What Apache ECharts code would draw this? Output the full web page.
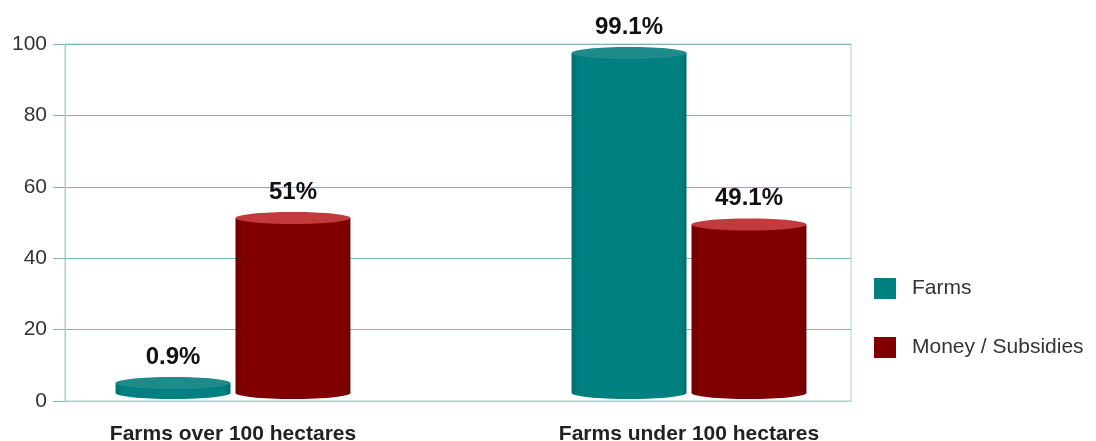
<!DOCTYPE html>
<html>
<head>
<meta charset="utf-8">
<script src="https://cdn.jsdelivr.net/npm/echarts@6/dist/echarts.min.js"></script>
<style>
  html, body { margin: 0; padding: 0; background: #fff; }
  #chart { width: 1096px; height: 441px; }
</style>
</head>
<body>
<div id="chart"></div>
<script>
const categories = ["Farms over 100 hectares", "Farms under 100 hectares"];
const farms = [0.9, 99.1];
const money = [51, 49.1];
const farmsLabels = ["0.9%", "99.1%"];
const moneyLabels = ["51%", "49.1%"];
const yTicks = [0, 20, 40, 60, 80, 100];

const font = "Liberation Sans";
const gridColor = "#7fb5b5";
const frameColor = "#a9cfcf";

// draws one cylinder per data item
function cylinder(side, labels, body, edge, top) {
  return function (params, api) {
    const idx = api.value(0);
    const p = api.coord([idx, api.value(1)]);
    const base = api.coord([idx, 0])[1];
    const band = api.size([1, 0])[0];
    const w = band * 0.252;
    const cx = p[0] + side * band * 0.1315;
    const ry = 6;
    const topY = Math.min(p[1], base - 10);
    const grad = new echarts.graphic.LinearGradient(0, 0, 1, 0, [
      { offset: 0, color: edge },
      { offset: 0.06, color: body },
      { offset: 0.94, color: body },
      { offset: 1, color: edge }
    ]);
    return {
      type: "group",
      children: [
        { type: "ellipse", shape: { cx: cx, cy: base, rx: w / 2, ry: ry }, style: { fill: grad } },
        { type: "rect", shape: { x: cx - w / 2, y: topY, width: w, height: base - topY }, style: { fill: grad } },
        { type: "ellipse", shape: { cx: cx, cy: topY, rx: w / 2, ry: ry }, style: { fill: top } },
        {
          type: "text",
          style: {
            text: labels[params.dataIndex], x: cx, y: topY - 26,
            align: "center", verticalAlign: "middle",
            font: "bold 24px '" + font + "'", fill: "#111"
          }
        }
      ]
    };
  };
}

const chart = echarts.init(document.getElementById("chart"));
chart.setOption({
  animation: false,
  legend: {
    orient: "vertical",
    left: 869,
    top: 273,
    itemWidth: 22,
    itemHeight: 21,
    itemGap: 38,
    icon: "rect",
    data: ["Farms", "Money / Subsidies"],
    textStyle: { fontFamily: font, fontSize: 21, color: "#333", lineHeight: 21, padding: [0, 0, 0, 11] }
  },
  grid: [
    { left: 65, right: 245, top: 44, bottom: 40, show: true, borderColor: frameColor, borderWidth: 1, outerBoundsMode: "none" },
    { left: 5, width: 912, top: 50, bottom: 48, outerBoundsMode: "none" }
  ],
  xAxis: [
    {
      gridIndex: 0, type: "category", data: categories,
      axisLine: { lineStyle: { color: frameColor } },
      axisTick: { show: false }, axisLabel: { show: false }
    },
    {
      gridIndex: 1, type: "category", data: categories,
      axisLine: { show: false }, axisTick: { show: false },
      axisLabel: { margin: 31, fontFamily: font, fontSize: 21, fontWeight: "bold", color: "#222" }
    }
  ],
  yAxis: [
    {
      gridIndex: 0, type: "value", min: yTicks[0], max: yTicks[yTicks.length - 1], interval: 20,
      axisLine: { show: true, lineStyle: { color: frameColor } },
      axisTick: { show: true, length: 12, lineStyle: { color: gridColor } },
      axisLabel: { margin: 18, fontFamily: font, fontSize: 21, color: "#333" },
      splitLine: { lineStyle: { color: gridColor } }
    },
    { gridIndex: 1, type: "value", min: 0, max: 100, show: false }
  ],
  series: [
    {
      name: "Farms", type: "custom", xAxisIndex: 1, yAxisIndex: 1,
      itemStyle: { color: "#008080" },
      data: farms.map((v, i) => [i, v]),
      renderItem: cylinder(-1, farmsLabels, "#008080", "#006c6c", "#1f8a8a")
    },
    {
      name: "Money / Subsidies", type: "custom", xAxisIndex: 1, yAxisIndex: 1,
      itemStyle: { color: "#800000" },
      data: money.map((v, i) => [i, v]),
      renderItem: cylinder(1, moneyLabels, "#800000", "#6a0000", "#c33a3c")
    }
  ]
});
</script>
</body>
</html>
